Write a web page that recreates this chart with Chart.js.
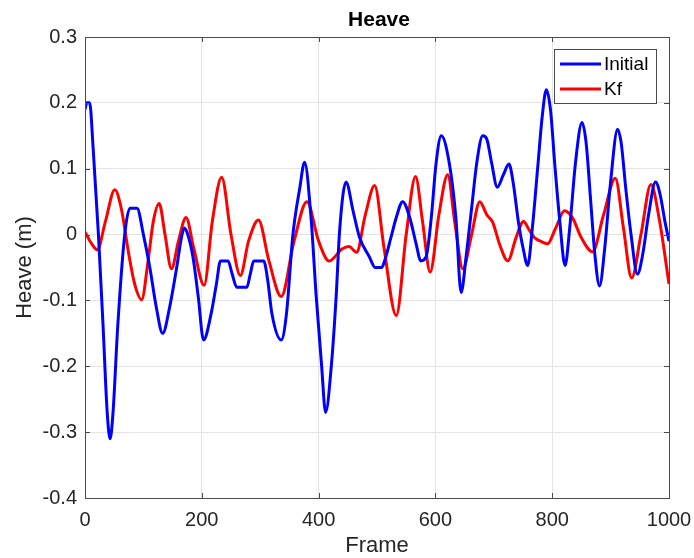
<!DOCTYPE html>
<html>
<head>
<meta charset="utf-8">
<title>Heave</title>
<script src="https://cdn.jsdelivr.net/npm/chart.js@4.4.0/dist/chart.umd.min.js"></script>
<style>
  html, body { margin: 0; padding: 0; background: #ffffff; }
  #c { display: block; }
</style>
</head>
<body>
<canvas id="c" width="694" height="558"></canvas>
<script>
// Heave per frame: raw estimate ("Initial") and filtered estimate ("Kf")
const initialFrames = [0, 3, 8, 14, 23, 31, 38, 43, 48, 56, 68, 77, 89, 100, 111, 122, 133, 145, 157, 165, 170, 176, 185, 194, 203, 216, 225, 232, 245, 252, 260, 277, 283, 289, 306, 313, 320, 336, 345, 356, 368, 376, 387, 396, 405, 412, 422, 430, 436, 447, 459, 470, 487, 497, 508, 513, 524, 533, 544, 556, 567, 575, 584, 593, 601, 610, 624, 635, 644, 653, 662, 671, 681, 688, 696, 706, 716, 726, 733, 742, 750, 758, 766, 775, 783, 790, 797, 805, 813, 822, 830, 840, 851, 858, 866, 873, 881, 890, 900, 912, 918, 926, 935, 946, 955, 965, 977, 985, 993, 1000];
const initialHeave = [0.19, 0.20, 0.20, 0.13, 0.0, -0.14, -0.27, -0.31, -0.27, -0.14, 0.0, 0.04, 0.04, 0.0, -0.05, -0.11, -0.15, -0.11, -0.05, -0.005, 0.01, 0.0, -0.035, -0.095, -0.16, -0.12, -0.075, -0.04, -0.04, -0.06, -0.08, -0.08, -0.06, -0.04, -0.04, -0.07, -0.12, -0.16, -0.12, 0.0, 0.072, 0.11, 0.026, -0.095, -0.197, -0.27, -0.197, -0.095, 0.006, 0.08, 0.036, -0.004, -0.034, -0.05, -0.05, -0.04, -0.004, 0.026, 0.05, 0.026, -0.014, -0.04, -0.034, 0.026, 0.107, 0.15, 0.107, 0.026, -0.088, -0.03, 0.04, 0.11, 0.15, 0.145, 0.11, 0.072, 0.09, 0.107, 0.08, 0.02, -0.02, -0.047, 0.01, 0.10, 0.18, 0.22, 0.19, 0.10, 0.02, -0.047, 0.01, 0.11, 0.17, 0.14, 0.05, -0.03, -0.078, -0.02, 0.08, 0.16, 0.14, 0.07, 0.0, -0.06, -0.03, 0.03, 0.08, 0.06, 0.02, -0.01];

const kfFrames = [0, 10, 21, 35, 51, 62, 75, 85, 97, 108, 117, 127, 137, 148, 160, 173, 186, 204, 218, 234, 250, 266, 280, 297, 315, 336, 358, 380, 400, 418, 440, 452, 465, 480, 496, 512, 533, 550, 566, 578, 591, 606, 621, 633, 647, 662, 676, 688, 698, 710, 724, 738, 751, 760, 769, 780, 792, 806, 821, 835, 850, 869, 888, 908, 922, 936, 952, 969, 984, 1000];
const kfHeave = [0.004, -0.012, -0.023, 0.02, 0.068, 0.04, -0.03, -0.075, -0.099, -0.04, 0.02, 0.047, 0.0, -0.052, -0.01, 0.026, -0.02, -0.077, 0.02, 0.087, 0.0, -0.062, -0.01, 0.022, -0.04, -0.094, -0.01, 0.05, -0.01, -0.04, -0.022, -0.018, -0.027, 0.03, 0.0745, -0.02, -0.123, 0.0, 0.088, 0.02, -0.057, 0.03, 0.091, 0.02, -0.052, 0.0, 0.05, 0.03, 0.019, -0.015, -0.04, -0.005, 0.02, 0.008, -0.004, -0.01, -0.014, 0.01, 0.036, 0.025, -0.005, -0.026, 0.03, 0.0856, 0.01, -0.066, 0.0, 0.076, 0.02, -0.075];

const xTickLabels = ['0', '200', '400', '600', '800', '1000'];
const yTickLabels = ['-0.4', '-0.3', '-0.2', '-0.1', '0', '0.1', '0.2', '0.3'];
const chartTitle = 'Heave';

const FONT = "'Liberation Sans', Arial, Helvetica, sans-serif";
const INK = '#262626';

const toPoints = (xs, ys) => xs.map((x, i) => ({ x: x, y: ys[i] }));

// Title centred over the plot area
const plotTitle = {
  id: 'plotTitle',
  afterDraw(chart) {
    const { ctx, chartArea: a } = chart;
    ctx.save();
    ctx.font = 'bold 21px ' + FONT;
    ctx.fillStyle = '#000000';
    ctx.textAlign = 'center';
    ctx.textBaseline = 'middle';
    ctx.fillText(chartTitle, (a.left + a.right) / 2 + 2, a.top - 17);
    ctx.restore();
  }
};

// Axes box with inward tick marks on all four sides
const axesBox = {
  id: 'axesBox',
  afterDatasetsDraw(chart) {
    const { ctx, chartArea: a, scales: { x, y } } = chart;
    const len = 5;
    ctx.save();
    ctx.strokeStyle = '#4a4a4a';
    ctx.lineWidth = 1;
    ctx.beginPath();
    x.ticks.forEach(t => {
      const px = Math.round(x.getPixelForValue(t.value)) + 0.5;
      ctx.moveTo(px, a.bottom); ctx.lineTo(px, a.bottom - len);
      ctx.moveTo(px, a.top); ctx.lineTo(px, a.top + len);
    });
    y.ticks.forEach(t => {
      const py = Math.round(y.getPixelForValue(t.value)) + 0.5;
      ctx.moveTo(a.left, py); ctx.lineTo(a.left + len, py);
      ctx.moveTo(a.right, py); ctx.lineTo(a.right - len, py);
    });
    ctx.stroke();
    ctx.strokeRect(Math.round(a.left) + 0.5, Math.round(a.top) + 0.5,
                   Math.round(a.right - a.left), Math.round(a.bottom - a.top));
    ctx.restore();
  }
};

// Legend box in the upper-right corner of the plot
const cornerLegend = {
  id: 'cornerLegend',
  afterDraw(chart) {
    const { ctx, chartArea: a } = chart;
    const w = 102, h = 54;
    const left = a.right - 13 - w, top = a.top + 12;
    ctx.save();
    ctx.fillStyle = '#ffffff';
    ctx.fillRect(left, top, w, h);
    ctx.strokeStyle = '#4a4a4a';
    ctx.lineWidth = 1;
    ctx.strokeRect(left + 0.5, top + 0.5, w, h);
    ctx.font = '19px ' + FONT;
    ctx.textBaseline = 'middle';
    ctx.textAlign = 'left';
    chart.data.datasets.forEach((ds, i) => {
      const cy = top + 15 + i * 25;
      ctx.strokeStyle = ds.borderColor;
      ctx.lineWidth = 3;
      ctx.beginPath();
      ctx.moveTo(left + 6, cy);
      ctx.lineTo(left + 47, cy);
      ctx.stroke();
      ctx.fillStyle = '#000000';
      ctx.fillText(ds.label, left + 50, cy + 1);
    });
    ctx.restore();
  }
};

new Chart(document.getElementById('c'), {
  type: 'line',
  data: {
    datasets: [
      {
        label: 'Initial',
        data: toPoints(initialFrames, initialHeave),
        borderColor: '#0000ff',
        borderWidth: 3,
        pointRadius: 0,
        cubicInterpolationMode: 'monotone',
        fill: false
      },
      {
        label: 'Kf',
        data: toPoints(kfFrames, kfHeave),
        borderColor: '#ff0000',
        borderWidth: 3,
        pointRadius: 0,
        cubicInterpolationMode: 'monotone',
        fill: false
      }
    ]
  },
  options: {
    responsive: false,
    animation: false,
    devicePixelRatio: 1,
    layout: { padding: { left: 0, right: 25, top: 37, bottom: 0 } },
    plugins: {
      legend: { display: false },
      tooltip: { enabled: false },
      title: { display: false }
    },
    scales: {
      x: {
        type: 'linear',
        min: 0,
        max: 1000,
        afterFit(s) { s.height = 60; s.paddingLeft = 0; s.paddingRight = 0; },
        border: { display: false },
        grid: { color: '#e4e4e4', lineWidth: 1, drawTicks: false },
        ticks: {
          stepSize: 200,
          padding: 10,
          color: INK,
          font: { family: FONT, size: 20 },
          maxRotation: 0,
          callback: (v, i) => xTickLabels[i]
        },
        title: {
          display: true,
          text: 'Frame',
          color: INK,
          font: { family: FONT, size: 22 },
          padding: { top: 0, bottom: -1 }
        }
      },
      y: {
        type: 'linear',
        min: -0.4,
        max: 0.3,
        afterFit(s) { s.width = 85; s.paddingTop = 0; s.paddingBottom = 0; },
        border: { display: false },
        grid: { color: '#e4e4e4', lineWidth: 1, drawTicks: false },
        ticks: {
          stepSize: 0.1,
          padding: 8,
          color: INK,
          font: { family: FONT, size: 20 },
          callback: (v, i) => yTickLabels[i]
        },
        title: {
          display: true,
          text: 'Heave (m)',
          color: INK,
          font: { family: FONT, size: 22 },
          padding: { top: 12, bottom: 0 }
        }
      }
    }
  },
  plugins: [axesBox, cornerLegend, plotTitle]
});
</script>
</body>
</html>
